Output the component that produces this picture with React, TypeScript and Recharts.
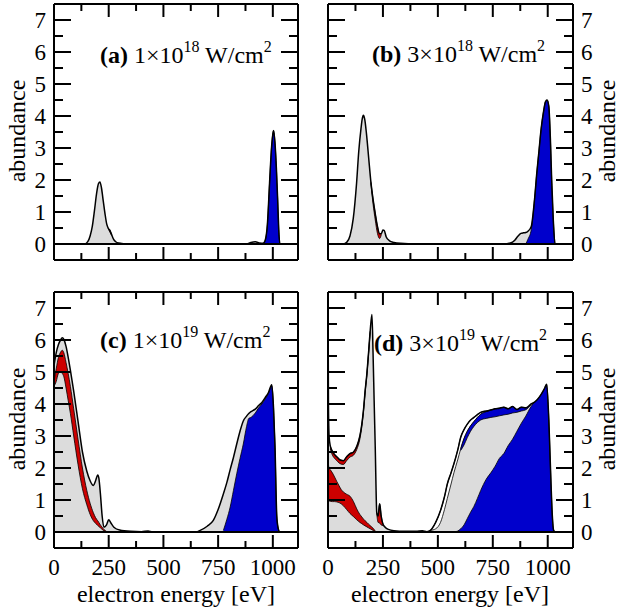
import React from 'react';
import { ComposedChart, Area, Line, XAxis, YAxis, ReferenceLine } from 'recharts';

const _ = null;

// tick values
const xTicks = [0, 125, 250, 375, 500, 625, 750, 875, 1000];
const yTicks = [0, 0.5, 1, 1.5, 2, 2.5, 3, 3.5, 4, 4.5, 5, 5.5, 6, 6.5, 7];

// (a) 1e18 W/cm2
const energyA = [0, 140, 155, 165, 175, 185, 195, 203, 210, 217, 225, 233, 241, 249, 256, 263, 272, 282, 295, 320, 360, 880, 900, 920, 940, 955, 965, 975, 985, 995, 1003, 1010, 1016, 1022, 1027, 1032, 1115];
const totalA = [0, 0, 0.08, 0.25, 0.55, 1.05, 1.6, 1.88, 1.94, 1.75, 1.35, 0.95, 0.62, 0.48, 0.42, 0.3, 0.15, 0.07, 0.03, 0.01, 0, 0, 0.05, 0.07, 0.03, 0.02, 0.12, 0.6, 1.9, 3.1, 3.55, 3.15, 2.4, 1.4, 0.45, 0, 0];
const redEnergyA = [249, 256, 263];
const redLoA = [0.46, 0.36, 0.27];
const redHiA = [0.48, 0.42, 0.3];
const blueEnergyA = [955, 965, 975, 985, 995, 1003, 1010, 1016, 1022, 1027, 1032];
const blueHiA = [0, 0.1, 0.6, 1.9, 3.1, 3.55, 3.15, 2.4, 1.4, 0.45, 0];

// (b) 3e18 W/cm2
const energyB = [0, 70, 85, 100, 115, 130, 140, 150, 156, 161, 167, 175, 185, 195, 205, 215, 225, 235, 243, 250, 256, 265, 280, 300, 330, 400, 800, 830, 850, 865, 878, 890, 900, 910, 925, 940, 950, 960, 970, 980, 990, 997, 1005, 1012, 1018, 1025, 1033, 1115];
const totalB = [0, 0, 0.05, 0.25, 0.8, 1.9, 2.9, 3.6, 3.92, 4.02, 3.9, 3.45, 2.7, 1.95, 1.4, 0.95, 0.55, 0.32, 0.33, 0.44, 0.42, 0.22, 0.1, 0.05, 0.02, 0, 0, 0.03, 0.12, 0.25, 0.33, 0.35, 0.36, 0.4, 0.55, 1.4, 2.2, 2.9, 3.6, 4.1, 4.45, 4.5, 4.3, 3.3, 2.0, 0.8, 0, 0];
const redEnergyB = [195, 205, 215, 225, 235, 243];
const redLoB = [1.9, 1.25, 0.75, 0.33, 0.17, 0.3];
const redHiB = [1.95, 1.4, 0.95, 0.55, 0.32, 0.33];
const blueEnergyB = [900, 910, 925, 940, 950, 960, 970, 980, 990, 997, 1005, 1012, 1018, 1025, 1033];
const blueHiB = [0, 0.15, 0.45, 1.4, 2.2, 2.9, 3.6, 4.1, 4.45, 4.5, 4.3, 3.3, 2.0, 0.8, 0];

// (c) 1e19 W/cm2
const energyC = [0, 10, 20, 30, 38, 45, 55, 65, 75, 90, 110, 130, 150, 165, 180, 190, 200, 205, 212, 220, 228, 240, 250, 260, 275, 300, 350, 400, 430, 450, 650, 668, 700, 728, 750, 774, 790, 805, 820, 835, 850, 865, 880, 890, 900, 910, 920, 935, 950, 965, 980, 995, 1003, 1010, 1018, 1025, 1032, 1115];
const totalC = [5.2, 5.6, 5.85, 6.0, 6.07, 6.02, 5.8, 5.45, 5.05, 4.4, 3.45, 2.5, 1.9, 1.6, 1.45, 1.6, 1.78, 1.68, 1.2, 0.5, 0.15, 0.22, 0.38, 0.28, 0.14, 0.06, 0.02, 0.01, 0.03, 0, 0, 0.05, 0.18, 0.36, 0.7, 1.19, 1.55, 1.95, 2.33, 2.75, 3.15, 3.47, 3.62, 3.7, 3.76, 3.8, 3.84, 3.95, 4.05, 4.2, 4.36, 4.6, 3.9, 2.65, 0.5, 0.1, 0, 0];
const redEnergyC = [0, 10, 20, 30, 38, 45, 55, 65, 75, 90, 110, 130, 150, 165, 180, 190, 200, 205, 212, 220, 228, 240];
const redLoC = [4.55, 4.7, 4.95, 5.0, 4.95, 4.85, 4.5, 4.1, 3.7, 3.0, 2.1, 1.35, 0.85, 0.55, 0.35, 0.27, 0.2, 0.17, 0.13, 0.08, 0.04, 0.01];
const redHiC = [4.7, 5.1, 5.45, 5.62, 5.68, 5.6, 5.3, 4.95, 4.55, 3.85, 2.9, 2.0, 1.3, 0.9, 0.6, 0.45, 0.35, 0.3, 0.22, 0.15, 0.08, 0.02];
const blueEnergyC = [774, 790, 805, 820, 835, 850, 865, 880, 890, 900, 910, 920, 935, 950, 965, 980, 995, 1003, 1010, 1018, 1025, 1032];
const blueHiC = [0.05, 0.4, 0.78, 1.3, 1.82, 2.3, 2.75, 3.3, 3.55, 3.58, 3.64, 3.72, 3.88, 4.0, 4.16, 4.33, 4.58, 3.9, 2.65, 0.5, 0.1, 0];

// (d) 3e19 W/cm2
const energyD = [0, 2, 5, 10, 20, 30, 40, 50, 60, 70, 85, 100, 116, 131, 145, 154, 162, 169, 177, 184, 192, 200, 205, 210, 215, 222, 228, 235, 242, 250, 260, 275, 300, 350, 400, 430, 450, 466, 490, 512, 530, 543, 560, 573, 590, 604, 619, 634, 649, 664, 680, 695, 720, 741, 760, 780, 800, 820, 840, 860, 880, 900, 924, 940, 954, 970, 985, 995, 1005, 1015, 1021, 1027, 1035, 1115];
const totalD = [7.8, 4.0, 3.0, 2.7, 2.52, 2.42, 2.35, 2.28, 2.24, 2.23, 2.35, 2.45, 2.5, 2.68, 3.0, 3.37, 3.85, 4.41, 4.95, 5.55, 6.28, 6.8, 5.6, 4.1, 2.65, 0.6, 0.5, 0.88, 0.5, 0.25, 0.15, 0.08, 0.04, 0.02, 0.02, 0.04, 0.01, 0.05, 0.3, 0.67, 1.1, 1.5, 1.85, 2.13, 2.55, 2.96, 3.2, 3.37, 3.5, 3.58, 3.67, 3.74, 3.78, 3.81, 3.85, 3.87, 3.9, 3.85, 3.92, 3.83, 3.9, 3.88, 4.0, 4.06, 4.15, 4.3, 4.48, 4.62, 3.5, 1.5, 0.5, 0.05, 0, 0];
const redLowEnergyD = [0, 2, 5, 10, 20, 30, 40, 50, 60, 70, 85, 100, 116, 131, 145, 154, 162, 169, 177, 184, 192, 200, 205, 210, 215];
const redLowLoD = [1.0, 1.0, 0.97, 0.96, 0.95, 0.95, 0.94, 0.92, 0.88, 0.82, 0.7, 0.58, 0.48, 0.38, 0.3, 0.26, 0.22, 0.19, 0.16, 0.13, 0.1, 0.07, 0.05, 0.03, 0.01];
const redLowHiD = [2.2, 2.1, 2.0, 1.95, 1.85, 1.72, 1.58, 1.45, 1.33, 1.25, 1.18, 1.12, 0.95, 0.72, 0.55, 0.47, 0.4, 0.35, 0.3, 0.25, 0.2, 0.15, 0.12, 0.08, 0.03];
const redTopEnergyD = [10, 20, 30, 40, 50, 60, 70, 85, 100, 116, 131, 145, 154, 162, 169, 177, 184, 192];
const redTopLoD = [2.6, 2.4, 2.3, 2.23, 2.16, 2.12, 2.11, 2.23, 2.34, 2.4, 2.58, 2.9, 3.29, 3.78, 4.35, 4.9, 5.5, 6.24];
const redTopHiD = [2.7, 2.52, 2.42, 2.35, 2.28, 2.24, 2.23, 2.35, 2.45, 2.5, 2.68, 3.0, 3.37, 3.85, 4.41, 4.95, 5.55, 6.28];
const redBumpEnergyD = [222, 228, 235, 242, 250];
const redBumpLoD = [0.55, 0.3, 0.28, 0.22, 0.2];
const redBumpHiD = [0.6, 0.5, 0.88, 0.5, 0.25];
const gapEnergyD = [466, 490, 512, 530, 543, 560, 573, 590, 604, 619, 634, 649, 664, 680, 695, 720, 741];
const gapLoD = [0.05, 0.1, 0.3, 0.7, 1.05, 1.5, 1.85, 2.25, 2.6, 2.92, 3.15, 3.32, 3.45, 3.58, 3.68, 3.76, 3.81];
const gapHiD = [0.05, 0.3, 0.67, 1.1, 1.5, 1.85, 2.13, 2.55, 2.96, 3.2, 3.37, 3.5, 3.58, 3.67, 3.74, 3.78, 3.81];
const blueTopEnergyD = [604, 619, 634, 649, 664, 680, 695, 720, 741, 760, 780, 800, 820, 840, 860, 880, 900, 924];
const blueTopLoD = [2.55, 2.72, 2.95, 3.15, 3.3, 3.42, 3.5, 3.55, 3.58, 3.6, 3.63, 3.66, 3.68, 3.72, 3.74, 3.78, 3.82, 3.98];
const blueTopHiD = [2.6, 2.92, 3.15, 3.32, 3.45, 3.58, 3.68, 3.76, 3.81, 3.85, 3.87, 3.9, 3.85, 3.92, 3.83, 3.9, 3.88, 4.0];
const blueEnergyD = [573, 590, 604, 619, 634, 649, 664, 680, 695, 720, 741, 760, 780, 800, 820, 840, 860, 880, 900, 924, 940, 954, 970, 985, 995, 1005, 1015, 1021, 1027, 1035];
const blueHiD = [0, 0.03, 0.1, 0.22, 0.42, 0.62, 0.8, 1.05, 1.3, 1.65, 1.85, 2.05, 2.3, 2.45, 2.7, 2.9, 3.15, 3.4, 3.62, 3.92, 4.06, 4.15, 4.3, 4.48, 4.62, 3.5, 1.5, 0.5, 0.05, 0];

const FONT = 'Liberation Serif';
const GRAY = '#dcdcdc';
const RED = '#cc0000';
const BLUE = '#0000cc';
const TICK = '#000';

type Band = { e: number[]; lo?: number[]; hi: number[]; fill: string };

function buildRows(energy: number[], total: number[], bands: Band[]) {
  const xs = Array.from(new Set([...energy, ...bands.flatMap((b) => b.e)])).sort((a, b) => a - b);
  return xs.map((x) => {
    const row: any = { x };
    const i = energy.indexOf(x);
    row.total = i >= 0 ? total[i] : _;
    bands.forEach((b, k) => {
      const j = b.e.indexOf(x);
      row['b' + k] = j >= 0 ? [b.lo ? b.lo[j] : 0, b.hi[j]] : _;
    });
    return row;
  });
}

const bandsA: Band[] = [
  { e: redEnergyA, lo: redLoA, hi: redHiA, fill: RED },
  { e: blueEnergyA, hi: blueHiA, fill: BLUE },
];
const bandsB: Band[] = [
  { e: redEnergyB, lo: redLoB, hi: redHiB, fill: RED },
  { e: blueEnergyB, hi: blueHiB, fill: BLUE },
];
const bandsC: Band[] = [
  { e: redEnergyC, lo: redLoC, hi: redHiC, fill: RED },
  { e: blueEnergyC, hi: blueHiC, fill: BLUE },
];
const bandsD: Band[] = [
  { e: gapEnergyD, lo: gapLoD, hi: gapHiD, fill: '#fff' },
  { e: redLowEnergyD, lo: redLowLoD, hi: redLowHiD, fill: RED },
  { e: redTopEnergyD, lo: redTopLoD, hi: redTopHiD, fill: RED },
  { e: redBumpEnergyD, lo: redBumpLoD, hi: redBumpHiD, fill: RED },
  { e: blueTopEnergyD, lo: blueTopLoD, hi: blueTopHiD, fill: BLUE },
  { e: blueEnergyD, hi: blueHiD, fill: BLUE },
];

// inward tick marks, longer on multiples of 250; labels only on the outer axes
const xTick = (side: string, labels: boolean) => (p: any) => {
  const v = p.payload.value;
  const x = Number(p.x);
  const y = Number(p.y);
  const major = v % 250 === 0;
  const len = major ? 13 : 7;
  const dir = side === 'bottom' ? -1 : 1;
  return (
    <g>
      <line x1={x} y1={y} x2={x} y2={y + dir * len} stroke={TICK} strokeWidth={2} />
      {labels && major && (
        <text x={x} y={y + 27} textAnchor="middle" style={{ fontFamily: FONT, fontSize: 23 }}>{String(v)}</text>
      )}
    </g>
  );
};

const yTick = (side: string, labels: boolean) => (p: any) => {
  const v = p.payload.value;
  const x = Number(p.x);
  const y = Number(p.y);
  const major = Number.isInteger(v);
  const len = major ? 17 : 9;
  const dir = side === 'left' ? 1 : -1;
  return (
    <g>
      <line x1={x} y1={y} x2={x + dir * len} y2={y} stroke={TICK} strokeWidth={2} />
      {labels && major && (
        <text x={x - dir * 8} y={y + 8} textAnchor={side === 'left' ? 'end' : 'start'} style={{ fontFamily: FONT, fontSize: 23 }}>{String(v)}</text>
      )}
    </g>
  );
};

function Panel(props: any) {
  const { left, top, width, height, yLeftW, yRightW, xBottomH, labelSide, xLabels, energy, total, bands } = props;
  const rows = buildRows(energy, total, bands);
  return (
    <div style={{ position: 'absolute', left, top }}>
      <ComposedChart width={width} height={height} data={rows} margin={{ top: 3, right: 0, bottom: 0, left: 0 }}>
        <XAxis xAxisId="b" dataKey="x" type="number" domain={[0, 1115]} allowDataOverflow ticks={xTicks} interval={0} orientation="bottom" height={xBottomH} tickLine={false} tickSize={0} tickMargin={0} stroke="#000" strokeWidth={2} tick={xTick('bottom', xLabels)} />
        <XAxis xAxisId="t" dataKey="x" type="number" domain={[0, 1115]} allowDataOverflow ticks={xTicks} interval={0} orientation="top" height={1} tickLine={false} tickSize={0} tickMargin={0} stroke="#000" strokeWidth={2} tick={xTick('top', false)} />
        <YAxis yAxisId="l" type="number" domain={[-0.5, 7.5]} allowDataOverflow ticks={yTicks} interval={0} orientation="left" width={yLeftW} tickLine={false} tickSize={0} tickMargin={0} stroke="#000" strokeWidth={2} tick={yTick('left', labelSide === 'left')} />
        <YAxis yAxisId="r" type="number" domain={[-0.5, 7.5]} allowDataOverflow ticks={yTicks} interval={0} orientation="right" width={yRightW} tickLine={false} tickSize={0} tickMargin={0} stroke="#000" strokeWidth={2} tick={yTick('right', labelSide === 'right')} />
        <Area xAxisId="b" yAxisId="l" dataKey="total" type="monotone" fill={GRAY} fillOpacity={1} stroke="none" baseValue={0} connectNulls isAnimationActive={false} />
        {bands.map((b: Band, k: number) => (
          <Area key={k} xAxisId="b" yAxisId="l" dataKey={'b' + k} type="monotone" fill={b.fill} fillOpacity={1} stroke="#000" strokeWidth={0.8} connectNulls isAnimationActive={false} />
        ))}
        <Area xAxisId="t" yAxisId="r" dataKey="total" type="monotone" fill="none" stroke="none" connectNulls isAnimationActive={false} />
        <Line xAxisId="b" yAxisId="l" dataKey="total" type="monotone" stroke="#000" strokeWidth={1.5} dot={false} activeDot={false} connectNulls isAnimationActive={false} />
        <ReferenceLine xAxisId="b" yAxisId="l" y={0} stroke="#000" strokeWidth={2} />
      </ComposedChart>
    </div>
  );
}

function Title({ x, y, tag, mant, exp }: { x: number; y: number; tag: string; mant: string; exp: string }) {
  return (
    <text x={x} y={y} style={{ fontFamily: FONT, fontSize: 24, whiteSpace: 'pre' }} fill="#000">
      <tspan fontWeight="bold">{tag}</tspan>
      <tspan>{' ' + mant + '×10'}</tspan>
      <tspan dy={-11} fontSize={16}>{exp}</tspan>
      <tspan dy={11}>{' W/cm'}</tspan>
      <tspan dy={-11} fontSize={16}>2</tspan>
    </text>
  );
}

export default function App() {
  const lbl = { fontFamily: FONT, fontSize: 24 };
  return (
    <div style={{ position: 'absolute', left: 0, top: 0, width: 620, height: 609, background: '#fff' }}>
      <Panel left={0} top={0} width={300} height={280} yLeftW={54} yRightW={2} xBottomH={20} labelSide="left" xLabels={false} energy={energyA} total={totalA} bands={bandsA} />
      <Panel left={300} top={0} width={320} height={280} yLeftW={28} yRightW={47} xBottomH={20} labelSide="right" xLabels={false} energy={energyB} total={totalB} bands={bandsB} />
      <Panel left={0} top={288} width={300} height={321} yLeftW={54} yRightW={2} xBottomH={61} labelSide="left" xLabels energy={energyC} total={totalC} bands={bandsC} />
      <Panel left={300} top={288} width={320} height={321} yLeftW={28} yRightW={47} xBottomH={61} labelSide="right" xLabels energy={energyD} total={totalD} bands={bandsD} />
      <svg width={620} height={609} style={{ position: 'absolute', left: 0, top: 0, pointerEvents: 'none' }}>
        <Title x={100} y={63} tag="(a)" mant="1" exp="18" />
        <Title x={372} y={62} tag="(b)" mant="3" exp="18" />
        <Title x={100} y={348} tag="(c)" mant="1" exp="19" />
        <Title x={374} y={351} tag="(d)" mant="3" exp="19" />
        <text transform="translate(25,131) rotate(-90)" textAnchor="middle" style={lbl}>abundance</text>
        <text transform="translate(615,131) rotate(-90)" textAnchor="middle" style={lbl}>abundance</text>
        <text transform="translate(25,419) rotate(-90)" textAnchor="middle" style={lbl}>abundance</text>
        <text transform="translate(615,419) rotate(-90)" textAnchor="middle" style={lbl}>abundance</text>
        <text x={176} y={602} textAnchor="middle" style={lbl}>electron energy [eV]</text>
        <text x={450} y={602} textAnchor="middle" style={lbl}>electron energy [eV]</text>
      </svg>
    </div>
  );
}
